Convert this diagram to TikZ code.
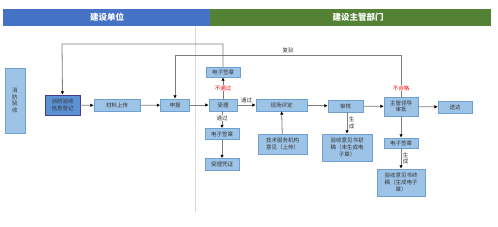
\documentclass[tikz,border=0pt]{standalone}
\usepackage{fontspec}
\newfontfamily\cjk{Noto Sans CJK SC}
\usetikzlibrary{arrows.meta}
\definecolor{boxfill}{RGB}{157,195,230}
\definecolor{boxline}{RGB}{110,160,210}
\definecolor{regfill}{RGB}{91,146,213}
\definecolor{regline}{RGB}{70,60,140}
\definecolor{headblue}{RGB}{68,114,196}
\definecolor{headgreen}{RGB}{84,130,53}
\definecolor{linegray}{RGB}{125,125,125}
\begin{document}
\begin{tikzpicture}[x=1pt,y=-1pt,
  box/.style={draw=boxline,fill=boxfill,font=\cjk\fontsize{5.5}{6.6}\selectfont,
    text=black!80,align=center,inner sep=1pt},
  head/.style={font=\cjk\bfseries\fontsize{8.5}{10}\selectfont,text=white},
  arr/.style={draw=linegray,line width=0.8pt,-{Latex[length=3.5pt,width=3.5pt,color=black]}},
  lbl/.style={font=\cjk\fontsize{5.5}{6.6}\selectfont,text=black!80,inner sep=0.5pt},
  bad/.style={lbl,text=red,fill=white}]
\useasboundingbox (0,0) rectangle (498,227);

% header bars
\fill[headblue] (3,9) rectangle (210,26);
\fill[headgreen] (210,9) rectangle (491,26);
\node[head] (hbuild) at (107,17.5) {建设单位};
\node[head] (hgov) at (358,17.5) {建设主管部门};
\draw[black!15] (195,26) -- (195,212);

% boxes
\node[box,minimum width=20,minimum height=65,text width=8] (side) at (15,100.5) {消\\防\\验\\收};
\node[box,draw=regline,fill=regfill,minimum width=35,minimum height=20] (reg) at (62.5,105) {消防验收\\信息登记};
\node[box,minimum width=46,minimum height=12] (upload) at (117,105.5) {材料上传};
\node[box,minimum width=29,minimum height=12] (apply) at (175,105) {申报};
\node[box,minimum width=28,minimum height=12] (accept) at (223,105) {受理};
\node[box,minimum width=34,minimum height=10] (sigtop) at (223,72) {电子签章};
\node[box,minimum width=34,minimum height=11] (sigbot) at (222,134) {电子签章};
\node[box,minimum width=34,minimum height=12] (cert) at (222,164.5) {受理凭证};
\node[box,minimum width=51,minimum height=12] (site) at (281.5,105) {现场评定};
\node[box,minimum width=49,minimum height=20] (tech) at (282.5,144) {技术服务机构\\意见（上传）};
\node[box,minimum width=35,minimum height=12] (review) at (345.5,106) {审核};
\node[box,minimum width=50,minimum height=27] (draft) at (347,147.5) {验收意见书初\\稿（未生成电\\子章）};
\node[box,minimum width=34,minimum height=19] (lead) at (401,106.5) {主管领导\\审批};
\node[box,minimum width=34,minimum height=12] (deliver) at (455,107) {送达};
\node[box,minimum width=34,minimum height=10] (sigr) at (401,143) {电子签章};
\node[box,minimum width=48,minimum height=27] (final) at (401,182.5) {验收意见书终\\稿（生成电子\\章）};

% return loops
\coordinate (loopA) at (62,44);
\coordinate (loopB) at (401,55);
\coordinate (loopC) at (175,55);
\draw[arr] (sigtop.north) |- (loopA) -- (reg.north);
\draw[arr] (lead.north) -- node[bad,pos=0.2] {不合格} (loopB) -- node[lbl,above=1pt,pos=0.5] {复验} (loopC) -- (apply.north);

% main flow
\draw[arr] (reg) -- (upload);
\draw[arr] (upload) -- (apply);
\draw[arr] (apply) -- (accept);
\draw[arr] (accept) -- node[bad,midway] {不通过} (sigtop);
\draw[arr] (accept) -- node[lbl,above=1pt,midway] {通过} (site);
\draw[arr] (accept.south -| sigbot.north) -- node[lbl,fill=white,pos=0.4] {通过} (sigbot.north);
\draw[arr] (sigbot) -- (cert);
\draw[arr] (tech) -- (site);
\draw[arr] (site) -- (review);
\draw[arr] (review) -- (lead);
\draw[arr] (lead) -- (deliver);
\draw[arr] (review.south -| draft.north) -- node[lbl,right=1pt,align=center,midway] {生\\成} (draft.north);
\draw[arr] (lead) -- (sigr);
\draw[arr] (sigr) -- node[lbl,right=1pt,align=center,midway] {生\\成} (final);
\end{tikzpicture}
\end{document}
